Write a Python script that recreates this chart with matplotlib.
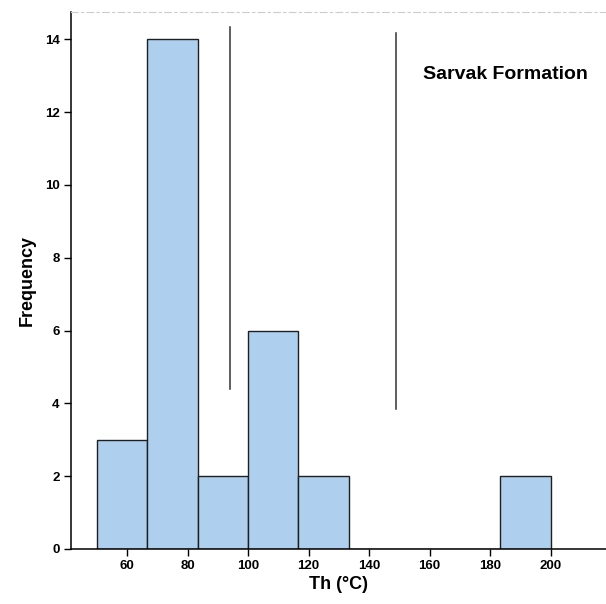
import numpy as np
import matplotlib
matplotlib.use('Agg')
import matplotlib.pyplot as plt

plt.rcParams['font.family'] = ['Liberation Sans Narrow', 'Liberation Sans', 'DejaVu Sans']

# histogram bins (Th, deg C) and counts
bin_edges = [50, 66.67, 83.33, 100, 116.67, 133.33, 150, 166.67, 183.33, 200]
counts = [3, 14, 2, 6, 2, 0, 0, 0, 2]

# vertical marker lines: x, y bottom, y top
marker_x = [94.0, 148.8]
marker_ymin = [4.4, 3.85]
marker_ymax = [14.34, 14.17]

x_ticks = [60, 80, 100, 120, 140, 160, 180, 200]
y_ticks = [0, 2, 4, 6, 8, 10, 12, 14]

fig = plt.figure(figsize=(6.06, 6.04), dpi=100)
ax = fig.add_axes([0.1167, 0.0911, 0.8833, 0.8895])

edges = np.array(bin_edges)
widths = np.diff(edges)
ax.bar(edges[:-1], counts, width=widths, align='edge',
       color='#aecfee', edgecolor='#1f1f1f', linewidth=1.0, zorder=2)

for x, y0, y1 in zip(marker_x, marker_ymin, marker_ymax):
    ax.plot([x, x], [y0, y1], color='#333333', linewidth=1.1, zorder=3)

ax.set_xlim(41.4, 218.3)
ax.set_ylim(0, 14.76)
ax.set_xticks(x_ticks)
ax.set_yticks(y_ticks)
ax.tick_params(axis='both', direction='out', length=5, width=1, labelsize=9.5, pad=3)
for lab in ax.get_xticklabels() + ax.get_yticklabels():
    lab.set_fontweight('bold')

ax.spines['right'].set_visible(False)
ax.spines['top'].set_color('#cccccc')
ax.spines['top'].set_linestyle((0, (6, 3, 2, 3)))
ax.spines['left'].set_linewidth(1.1)
ax.spines['bottom'].set_linewidth(1.1)

label_font = ['Liberation Sans', 'DejaVu Sans']
ax.set_xlabel('Th (°C)', fontsize=13, fontweight='bold', family=label_font, labelpad=3)
ax.set_ylabel('Frequency', fontsize=13, fontweight='bold', family=label_font, labelpad=6.5)

ax.text(157.8, 13.04, 'Sarvak Formation', fontsize=14, fontweight='bold',
        family=label_font, va='center', ha='left')

fig.savefig('out.png', dpi=100)
